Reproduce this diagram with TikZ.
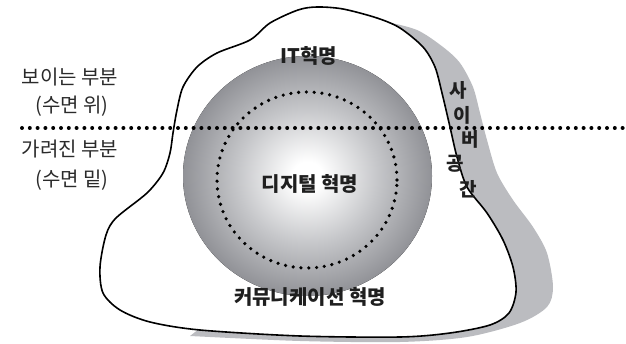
\documentclass[tikz,border=0pt]{standalone}
\usepackage{fontspec}
\setmainfont{Noto Sans CJK KR}
\definecolor{sphedge}{HTML}{919297}
\definecolor{sphmid}{HTML}{C6C7CA}
\definecolor{shadowgray}{HTML}{BBBCC0}
\definecolor{txt}{HTML}{2A2A2A}
\pgfdeclareradialshading{sphere}{\pgfpoint{0bp}{0bp}}{color(0bp)=(white); color(3bp)=(white); color(14bp)=(sphmid); color(25bp)=(sphedge); color(50bp)=(sphedge)}
\tikzset{
  side/.style={text=txt, font=\fontsize{20}{22}\selectfont, inner sep=0pt},
  lbl/.style={text=black!88, font=\fontsize{20}{22}\selectfont\bfseries, inner sep=0pt},
  cyb/.style={text=black!88, font=\fontsize{19}{22}\selectfont\bfseries, inner sep=0pt},
  dots/.style={line width=4pt, line cap=round, dash pattern=on 0pt off 7.8pt},
}
\begin{document}
\begin{tikzpicture}[x=1pt,y=-1pt]
\useasboundingbox (0,0) rectangle (626,344);
% shadow
\fill[shadowgray] plot[smooth] coordinates {(360,16) (383,21) (417,30) (443,47) (460,63) (473,87) (480,113) (487,140) (497,173) (513,200) (533,227) (547,253) (553,287) (547,307) (520,323) (467,337) (400,342) (300,341) (190,336)} -- (300,250) -- cycle;
% outline
\draw[line width=1.6pt, fill=white] plot[smooth cycle] coordinates {(317,7) (343,9) (377,18) (400,28) (423,47) (435,67) (442,93) (450,127) (457,157) (467,187) (487,213) (503,240) (513,267) (516,292) (509,313) (490,325) (450,333) (400,337) (300,336) (200,330) (150,322) (120,310) (103,293) (100,267) (106,235) (116,218) (147,193) (163,173) (170,153) (173,133) (177,110) (183,87) (197,67) (217,53) (250,40) (270,23) (298,10)};
% sphere
\node[circle, minimum size=1pt, inner sep=0pt] (c) at (307.5,176) {};
\fill[shading=sphere] (c) ellipse [x radius=124.5pt, y radius=120pt];
% dotted circle
\node[inner sep=0pt] (dc) at (307,180) {};
\draw[dots, line width=3.6pt] (dc) ellipse [x radius=90pt, y radius=88pt];
% dotted water line
\coordinate (wl) at (22,128);
\coordinate (wr) at (626,128);
\draw[dots] (wl) -- (wr);
% side labels
\node[side] (t1) at (70,77) {보이는 부분};
\node[side] (t2) at (72,106) {(수면 위)};
\node[side] (t3) at (70,149) {가려진 부분};
\node[side] (t4) at (72,180) {(수면 밑)};
% labels
\node[lbl] (it) at (309,56) {IT혁명};
\node[lbl] (dg) at (310,184) {디지털 혁명};
\node[lbl] (cm) at (310,297) {커뮤니케이션 혁명};
% cyberspace
\node[cyb] (s1) at (458,90) {사};
\node[cyb] (s2) at (462,115) {이};
\node[cyb] (s3) at (470,139) {버};
\node[cyb] (s4) at (455,164) {공};
\node[cyb] (s5) at (468,189) {간};
\end{tikzpicture}
\end{document}
